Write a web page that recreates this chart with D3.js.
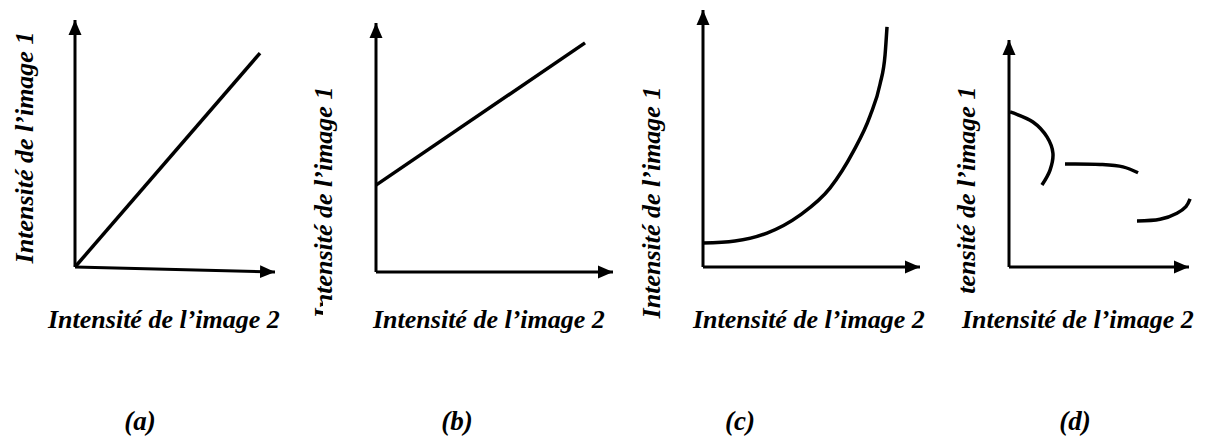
<!DOCTYPE html>
<html lang="fr">
<head>
    <meta charset="UTF-8">
    <title>Intensités</title>
    <script src="https://cdnjs.cloudflare.com/ajax/libs/d3/7.8.5/d3.min.js"></script>
    <style>
        body { margin: 0; background: white; }
    </style>
</head>
<body>
<div id="chart"></div>
<script>
    // panel letters and axis titles
    const panels = ['(a)', '(b)', '(c)', '(d)'];
    const xTitle = 'Intensité de l’image 2';
    const yTitle = 'Intensité de l’image 1';

    // curves, in axis units (0..10 on each axis)
    const curveA = [[0, 0], [9.25, 8.66]];
    const curveB = [[0, 3.49], [8.82, 9.2]];
    const curveC = [[0, 0.93], [1.47, 1.01], [2.95, 1.32], [4.47, 2.02], [5.85, 3.07], [6.91, 4.47], [7.7, 5.88], [8.16, 7.12], [8.39, 8.25], [8.48, 9.34]];
    const curveD1 = [[0.06, 6.83], [1.33, 6.39], [2.11, 5.73], [2.44, 5.02], [2.28, 4.27], [1.83, 3.61]];
    const curveD2 = [[3.11, 4.54], [5.06, 4.52], [6.33, 4.41], [7.17, 4.15]];
    const curveD3 = [[7.11, 2.03], [8.39, 2.1], [9.33, 2.37], [9.83, 2.66], [10.06, 3.0]];
    const curves = [[curveA], [curveB], [curveC], [curveD1, curveD2, curveD3]];

    const W = 1207, H = 438;
    const FONT = '"Liberation Serif", "Times New Roman", Times, "DejaVu Serif", serif';

    // layout of each small plot
    const frames = [
        {x0: 75, x1: 275, y0: 267, y1: 20, xEndDy: 5, labY: 147.5, labX: 33, clip: null, titleX: 48, capX: 140},
        {x0: 376, x1: 613, y0: 272, y1: 23, xEndDy: 0, labY: 202.5, labX: 332, clip: 'b', titleX: 373, capX: 457},
        {x0: 703, x1: 920, y0: 267, y1: 10, xEndDy: 0, labY: 202.5, labX: 660, clip: null, titleX: 693, capX: 740},
        {x0: 1009, x1: 1189, y0: 267, y1: 40, xEndDy: 0, labY: 202.5, labX: 975, clip: 'd', titleX: 962, capX: 1075}
    ];

    const svg = d3.select('#chart').append('svg')
        .attr('width', W)
        .attr('height', H);

    const defs = svg.append('defs');
    defs.append('marker')
        .attr('id', 'arrow')
        .attr('markerUnits', 'userSpaceOnUse')
        .attr('markerWidth', 16)
        .attr('markerHeight', 14)
        .attr('viewBox', '0 -7 16 14')
        .attr('refX', 15)
        .attr('refY', 0)
        .attr('orient', 'auto')
        .append('path')
        .attr('d', 'M0,-6.5L15,0L0,6.5Z')
        .attr('fill', 'black');

    // parts of the rotated titles hidden under the bottom titles
    defs.append('clipPath').attr('id', 'clip-b')
        .append('path').attr('d', 'M290,0H360V300H323V438H290Z');
    defs.append('clipPath').attr('id', 'clip-d')
        .append('rect').attr('x', 930).attr('y', 0).attr('width', 70).attr('height', 295);

    function addText(sel, str, size) {
        return sel.append('text')
            .attr('font-family', FONT)
            .attr('font-weight', 'bold')
            .attr('font-style', 'italic')
            .attr('font-size', size)
            .attr('fill', 'black')
            .text(str);
    }

    frames.forEach((f, i) => {
        const x = d3.scaleLinear().domain([0, 10]).range([f.x0, f.x1]);
        const y = d3.scaleLinear().domain([0, 10]).range([f.y0, f.y1]);
        const g = svg.append('g');

        // axes
        g.append('line')
            .attr('x1', x(0)).attr('y1', y(0))
            .attr('x2', x(0)).attr('y2', y(10))
            .attr('stroke', 'black').attr('stroke-width', 3)
            .attr('marker-end', 'url(#arrow)');
        g.append('line')
            .attr('x1', x(0)).attr('y1', y(0))
            .attr('x2', x(10)).attr('y2', y(0) + f.xEndDy)
            .attr('stroke', 'black').attr('stroke-width', 3)
            .attr('marker-end', 'url(#arrow)');

        const line = d3.line()
            .x(d => x(d[0]))
            .y(d => y(d[1]))
            .curve(i === 2 ? d3.curveMonotoneX : d3.curveCatmullRom.alpha(0.5));

        g.selectAll('path.curve')
            .data(curves[i])
            .join('path')
            .attr('class', 'curve')
            .attr('d', line)
            .attr('fill', 'none')
            .attr('stroke', 'black')
            .attr('stroke-width', 3.5);

        // y title (rotated), clipped in page coordinates
        const holder = g.append('g');
        if (f.clip) holder.attr('clip-path', `url(#clip-${f.clip})`);
        addText(holder, yTitle, 26)
            .attr('transform', `translate(${f.labX},${f.labY}) rotate(-90)`)
            .attr('text-anchor', 'middle');

        // x title
        addText(g, xTitle, 26)
            .attr('x', f.titleX)
            .attr('y', 328);

        // panel letter
        addText(g, panels[i], 27)
            .attr('x', f.capX)
            .attr('y', 430)
            .attr('text-anchor', 'middle');
    });
</script>
</body>
</html>
